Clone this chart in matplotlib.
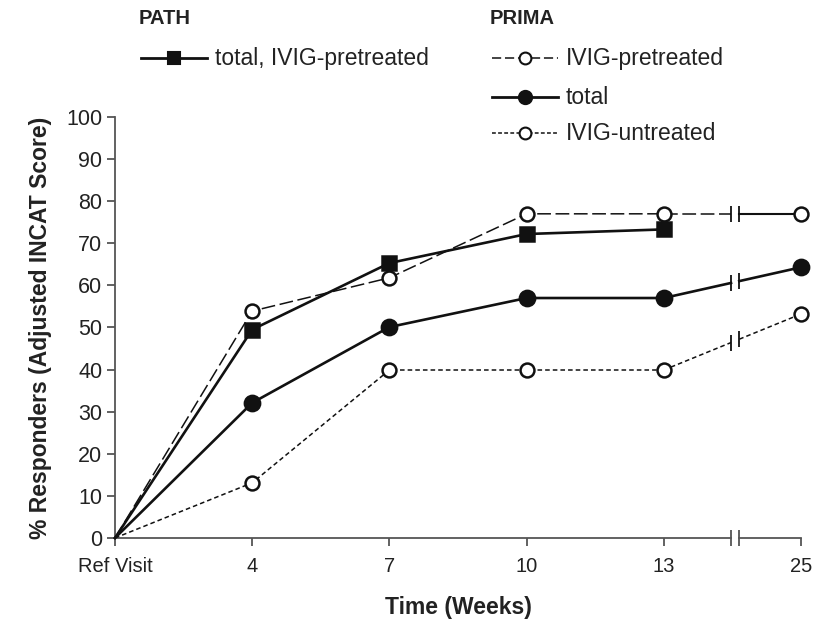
import numpy as np
import matplotlib
matplotlib.use("Agg")
import matplotlib.pyplot as plt
from matplotlib.lines import Line2D

plt.rcParams['font.family'] = ['Liberation Sans', 'DejaVu Sans']

# ---- data ----
time_labels = ["Ref Visit", "4", "7", "10", "13", "25"]
path_total = [0, 49.5, 65.3, 72.2, 73.3]          # PATH total, IVIG-pretreated (to week 13)
prima_pre = [0, 53.9, 61.8, 77.0, 77.0, 77.0]      # PRIMA IVIG-pretreated
prima_total = [0, 32.1, 50.1, 57.0, 57.0, 64.3]    # PRIMA total
prima_untreated = [0, 13.1, 39.9, 39.9, 39.9, 53.2]  # PRIMA IVIG-untreated

BREAK_X = 4.52
GAP = 0.03
INK = "#111111"
AXC = "#555555"
TXT = "#222222"

fig = plt.figure(figsize=(8.15, 6.2), dpi=100)
ax = fig.add_axes([0.1411, 0.1323, 0.8417, 0.679])
x = np.arange(len(time_labels))

def plot_series(vals, ls_before, ls_after, lw, lw_after, marker, mfc, ms, z):
    v = np.asarray(vals, dtype=float)
    xs = x[:len(v)]
    ax.plot(xs[:5], v[:5], ls=ls_before, color=INK, lw=lw, zorder=z, clip_on=False)
    if len(v) > 5:
        xl, xr = BREAK_X - GAP, BREAK_X + GAP
        yl, yr = np.interp([xl, xr], xs[4:6], v[4:6])
        ax.plot([xs[4], xl], [v[4], yl], ls=ls_before, color=INK, lw=lw, zorder=z, clip_on=False)
        ax.plot([xr, xs[5]], [yr, v[5]], ls=ls_after, color=INK, lw=lw_after, zorder=z, clip_on=False)
        ax.plot([xl, xr], [yl, yr], ls='none', marker='|', ms=11, mew=1.3, color=INK, zorder=z, clip_on=False)
    ax.plot(xs[1:], v[1:], ls='none', marker=marker, ms=ms, mfc=mfc, mec=INK, mew=1.8,
            zorder=z + 1, clip_on=False)

dash_pre = (0, (9, 3))
dot_un = (0, (3, 2))
plot_series(prima_untreated, dot_un, dot_un, 1.1, 1.1, 'o', 'white', 10, 3)
plot_series(prima_total, '-', '-', 1.9, 1.9, 'o', INK, 11, 4)
plot_series(prima_pre, dash_pre, '-', 1.1, 1.5, 'o', 'white', 10, 5)
plot_series(path_total, '-', '-', 1.9, 1.9, 's', INK, 9.5, 6)

ax.set_xlim(0, 5)
ax.set_ylim(0, 100)
ax.set_yticks(np.arange(0, 101, 10))
ax.set_xticks(x)
ax.set_xticklabels(time_labels)
for s in ['top', 'right', 'bottom']:
    ax.spines[s].set_visible(False)
ax.spines['left'].set_color(AXC)
ax.spines['left'].set_linewidth(1.3)
ax.tick_params(axis='both', direction='out', length=6, width=1.3, color=AXC,
               labelsize=14.5, labelcolor=TXT)
ax.tick_params(axis='x', pad=8)
ax.tick_params(axis='y', pad=3, labelsize=15.5)

# bottom axis line with break
ax.plot([0, BREAK_X - GAP], [0, 0], color=AXC, lw=1.3, clip_on=False, zorder=1)
ax.plot([BREAK_X + GAP, 5], [0, 0], color=AXC, lw=1.3, clip_on=False, zorder=1)
ax.plot([BREAK_X - GAP, BREAK_X + GAP], [0, 0], ls='none', marker='|', ms=11, mew=1.3,
        color=AXC, clip_on=False, zorder=1)

ax.set_xlabel("Time (Weeks)", fontsize=16.5, fontweight='bold', color=TXT, labelpad=14)
ax.set_ylabel("% Responders (Adjusted INCAT Score)", fontsize=16.5, fontweight='bold', color=TXT, labelpad=10)

# ---- legend (manual) ----
def px(xp, yp):
    return xp / 815, 1 - yp / 620

def legend_entry(x0, x1, yp, ls, lw, marker, mfc, ms, label):
    (fx0, fy), (fx1, _) = px(x0, yp), px(x1, yp)
    ln = Line2D([fx0, (fx0 + fx1) / 2, fx1], [fy, fy, fy], transform=fig.transFigure,
                ls=ls, lw=lw, color=INK, marker=marker, markevery=[1], ms=ms,
                mfc=mfc, mec=INK, mew=1.5)
    fig.add_artist(ln)
    tx, ty = px(x1 + 8, yp)
    fig.text(tx, ty, label, fontsize=16.5, color=TXT, va='center', ha='left')

fig.text(*px(139, 18), "PATH", fontsize=14.5, fontweight='bold', color=TXT, va='center', ha='left')
fig.text(*px(490, 18), "PRIMA", fontsize=14.5, fontweight='bold', color=TXT, va='center', ha='left')
legend_entry(141, 207, 58, '-', 2.0, 's', INK, 8.5, "total, IVIG-pretreated")
legend_entry(492, 558, 58, (0, (6, 2.5)), 1.1, 'o', 'white', 8.5, "IVIG-pretreated")
legend_entry(492, 558, 97, '-', 2.0, 'o', INK, 9.5, "total")
legend_entry(492, 558, 133, (0, (2.5, 1.5)), 1.1, 'o', 'white', 8.5, "IVIG-untreated")

fig.savefig("out.png", dpi=100)
